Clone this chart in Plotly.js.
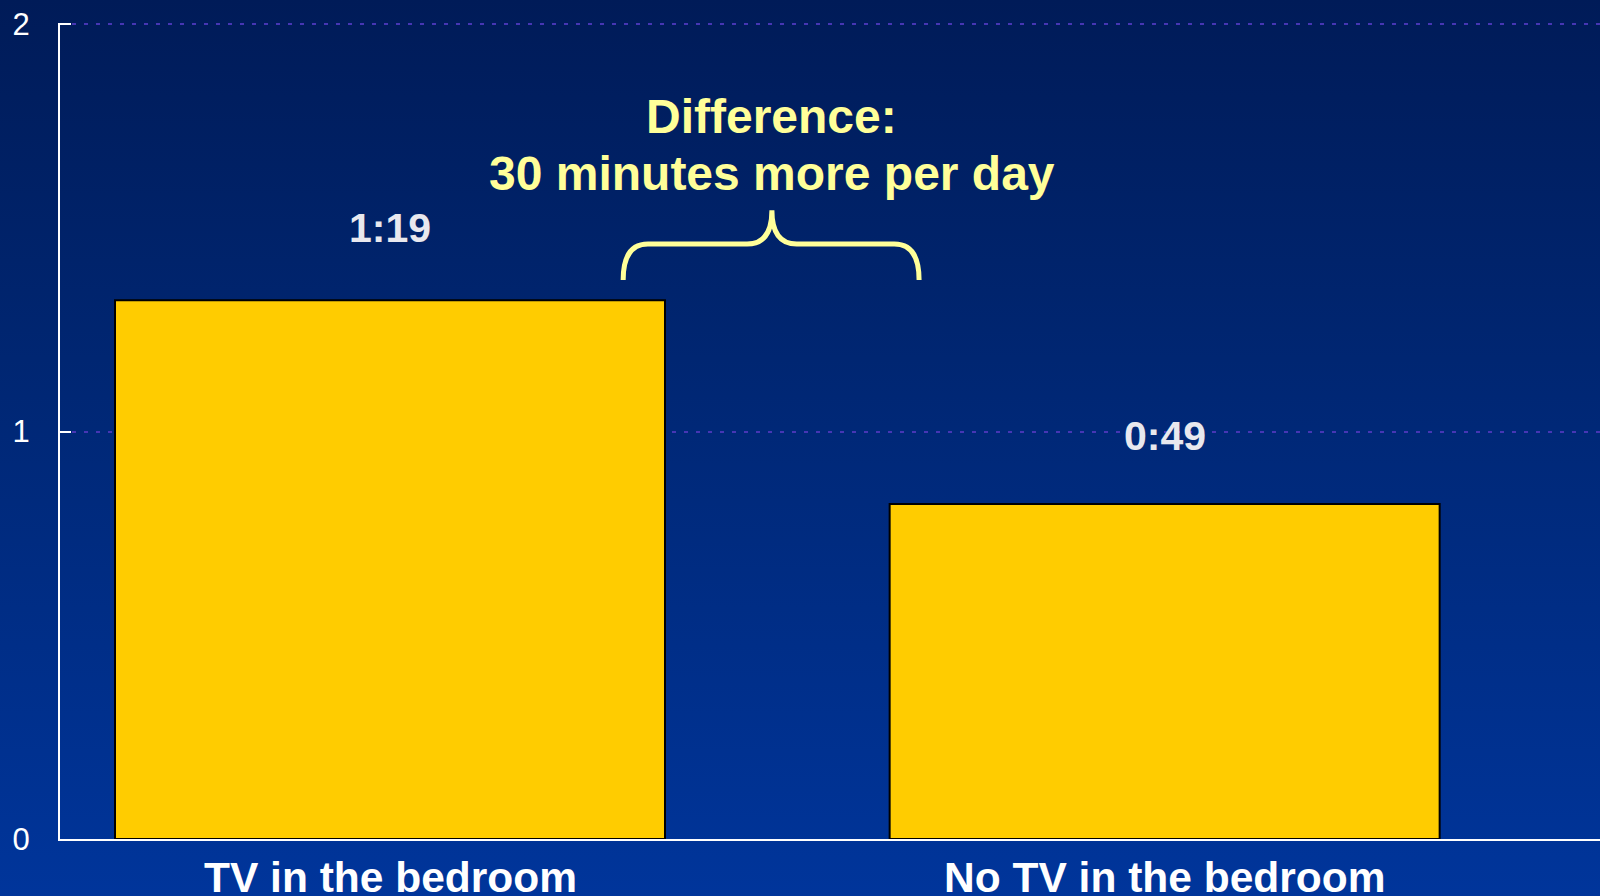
<!DOCTYPE html>
<html>
<head>
<meta charset="utf-8">
<script src="https://cdn.plot.ly/plotly-3.0.1.min.js"></script>
<style>
  html, body { margin: 0; padding: 0; width: 1600px; height: 896px; overflow: hidden; }
  #chart { width: 1600px; height: 896px; background: linear-gradient(to bottom, #001b58 0%, #002672 40%, #00359b 100%); }
</style>
</head>
<body>
<div id="chart"></div>
<script>
// ---- data ----
const categories = ["TV in the bedroom", "No TV in the bedroom"];
const hoursPerDay = [1.322, 0.822];          // (labelled 1:19 and 0:49)
const valueLabels = ["1:19", "0:49"];
const differenceLines = ["Difference:", "30 minutes more per day"];
const yTickVals = [0, 1, 2];
const yTickText = ["0", "1", "2"];

// brace (annotation decoration), in data units
const brace = { x0: 0.301, x1: 0.683, xc: 0.493, yEnd: 1.372, yMid: 1.460, yTop: 1.543, dx: 0.032 };

const xIdx = categories.map((_, i) => i);
const FONT = "Liberation Sans, Arial, sans-serif";

const bars = {
  type: "bar",
  x: xIdx,
  y: hoursPerDay,
  width: 0.71,
  marker: { color: "#FFCC00", line: { color: "#000000", width: 2 } },
  hoverinfo: "skip"
};

const b = brace;
const ctrlY = b.yMid;
const bracePath =
  `M ${b.x0},${b.yEnd} Q ${b.x0},${ctrlY} ${b.x0 + b.dx},${ctrlY} ` +
  `L ${b.xc - b.dx},${ctrlY} Q ${b.xc},${ctrlY} ${b.xc},${b.yTop} ` +
  `Q ${b.xc},${ctrlY} ${b.xc + b.dx},${ctrlY} ` +
  `L ${b.x1 - b.dx},${ctrlY} Q ${b.x1},${ctrlY} ${b.x1},${b.yEnd}`;

const valueShifts = [72, 68];
const annotations = xIdx.map((xi, i) => ({
  x: xi, y: hoursPerDay[i], xref: "x", yref: "y",
  text: valueLabels[i], showarrow: false,
  yanchor: "middle", yshift: valueShifts[i],
  font: { family: FONT, size: 41, color: "#E8E8EE", weight: "bold" }
}));
const lineShifts = [94, 37];
differenceLines.forEach((t, i) => annotations.push({
  x: b.xc, y: b.yTop, xref: "x", yref: "y",
  text: t, showarrow: false,
  yanchor: "middle", yshift: lineShifts[i],
  font: { family: FONT, size: 48, color: "#FFFF99", weight: "bold" }
}));
// category labels under the axis
xIdx.forEach((xi, i) => annotations.push({
  x: xi, y: 0, xref: "x", yref: "y",
  text: categories[i], showarrow: false,
  yanchor: "middle", yshift: -38,
  font: { family: FONT, size: 42.5, color: "#FFFFFF", weight: "bold" }
}));

const layout = {
  width: 1600, height: 896,
  margin: { l: 60, r: 0, t: 23, b: 57 },
  paper_bgcolor: "rgba(0,0,0,0)",
  plot_bgcolor: "rgba(0,0,0,0)",
  showlegend: false,
  font: { family: FONT, color: "#FFFFFF" },
  xaxis: {
    range: [-0.426, 1.562],
    tickvals: xIdx, ticktext: categories,
    showticklabels: false,
    showgrid: false, zeroline: false,
    showline: true, linecolor: "#FFFFFF", linewidth: 2,
    ticks: "",
    fixedrange: true
  },
  yaxis: {
    range: [0, 2.0025],
    tickvals: yTickVals, ticktext: yTickText,
    showgrid: true, gridcolor: "#4636b4", gridwidth: 2, griddash: "4px,8px",
    zeroline: false,
    showline: true, linecolor: "#FFFFFF", linewidth: 2,
    ticks: "inside", ticklen: 11, tickwidth: 2, tickcolor: "#FFFFFF",
    ticklabelstandoff: 22,
    tickfont: { size: 31, color: "#FFFFFF" },
    fixedrange: true
  },
  shapes: [{
    type: "path", xref: "x", yref: "y", path: bracePath,
    line: { color: "#FFFF99", width: 5 }, fillcolor: "rgba(0,0,0,0)"
  }],
  annotations: annotations
};

Plotly.newPlot("chart", [bars], layout, { displayModeBar: false, staticPlot: true });
</script>
</body>
</html>
